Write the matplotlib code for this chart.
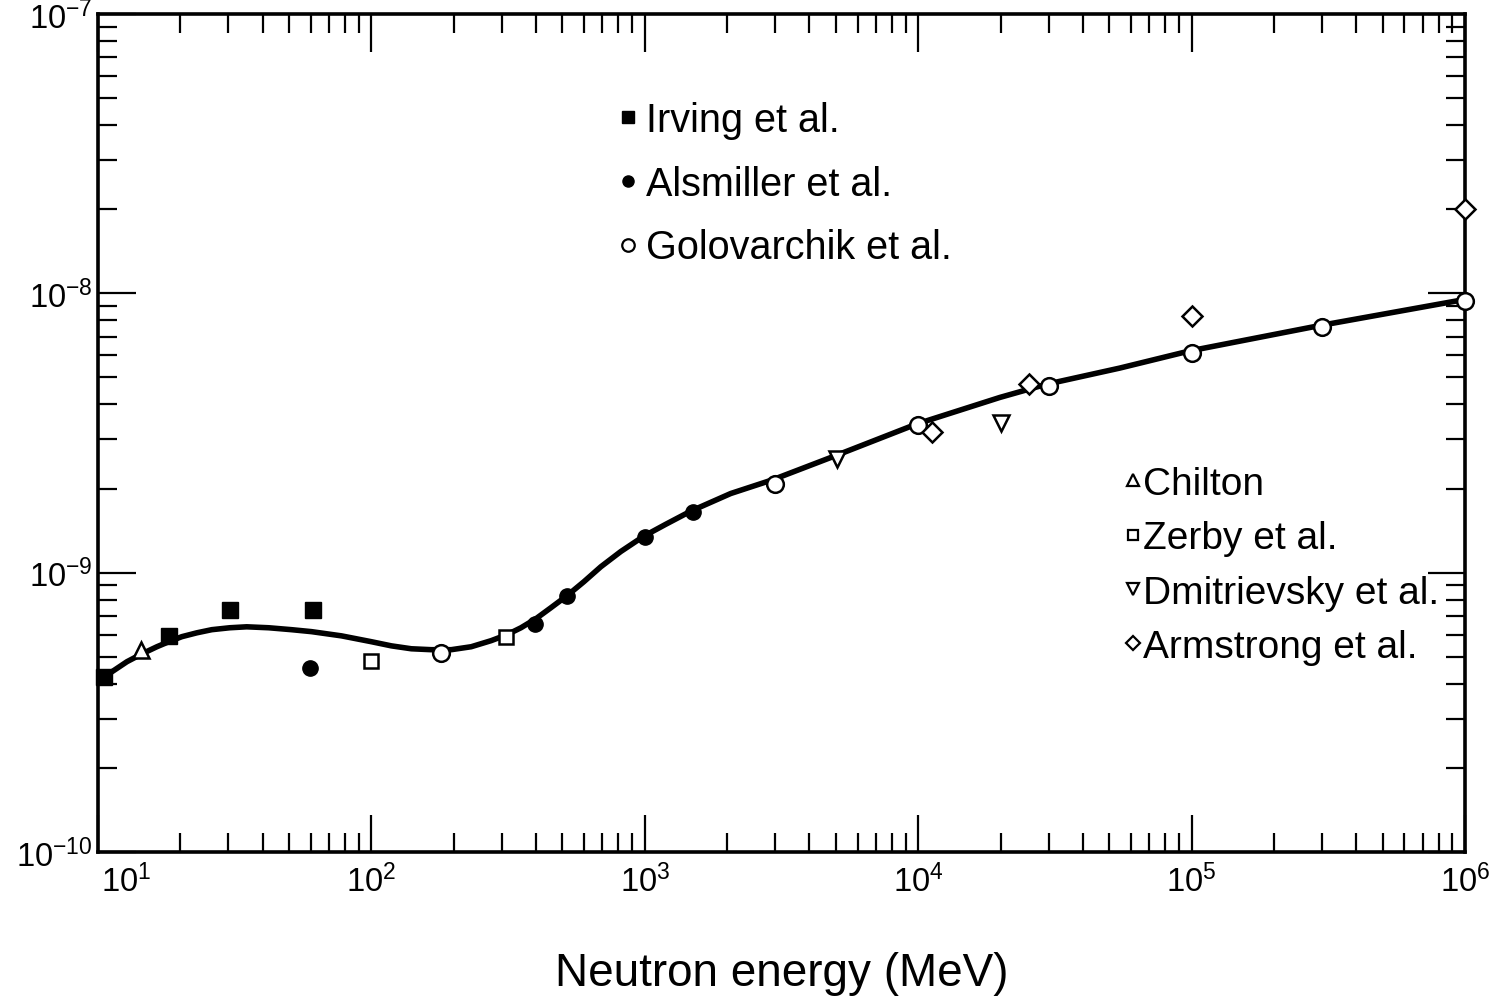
import matplotlib
matplotlib.use("Agg")
from matplotlib import pyplot as plt
from matplotlib.lines import Line2D
from matplotlib import transforms
import numpy as np

plt.rcParams['font.family'] = ['Liberation Sans', 'DejaVu Sans']
plt.rcParams['mathtext.fontset'] = 'custom'
plt.rcParams['mathtext.rm'] = 'Liberation Sans'
plt.rcParams['mathtext.it'] = 'Liberation Sans'
plt.rcParams['mathtext.bf'] = 'Liberation Sans:bold'

# fitted curve
curve_e = [10.0, 11.25, 12.76, 14.47, 16.42, 18.16, 20.26, 22.98, 26.07, 30.33,
           34.98, 42.09, 51.05, 60.39, 77.72, 100, 118.3, 140.0, 165.6, 195.9,
           231.7, 274.2, 313.5, 352.5, 399.6, 453.5, 519.3, 598.6, 690.6, 816.6,
           990.6, 1193, 1472, 2061, 2933, 5020, 9906, 1.99e4, 2.93e4, 5.46e4,
           9.84e4, 2.93e5, 1.0e6]
curve_v = [4.13e-10, 4.42e-10, 4.80e-10, 5.12e-10, 5.43e-10, 5.66e-10, 5.90e-10,
           6.09e-10, 6.25e-10, 6.35e-10, 6.40e-10, 6.35e-10, 6.25e-10, 6.15e-10,
           5.94e-10, 5.66e-10, 5.47e-10, 5.34e-10, 5.30e-10, 5.30e-10, 5.43e-10,
           5.71e-10, 6.00e-10, 6.35e-10, 6.84e-10, 7.49e-10, 8.27e-10, 9.28e-10,
           1.05e-9, 1.19e-9, 1.35e-9, 1.49e-9, 1.66e-9, 1.92e-9, 2.15e-9, 2.63e-9,
           3.41e-9, 4.24e-9, 4.72e-9, 5.40e-9, 6.22e-9, 7.66e-9, 9.51e-9]

# data sets
irving_e = [10.5, 18.2, 30.3, 61.4]
irving_v = [4.24e-10, 5.94e-10, 7.37e-10, 7.37e-10]

alsmiller_e = [59.4, 397, 519, 1000, 1500]
alsmiller_v = [4.57e-10, 6.56e-10, 8.27e-10, 1.34e-9, 1.65e-9]

golovarchik_e = [180, 3000, 1.0e4, 3.0e4, 1.0e5, 3.0e5, 1.0e6]
golovarchik_v = [5.17e-10, 2.07e-9, 3.38e-9, 4.64e-9, 6.1e-9, 7.59e-9, 9.35e-9]

chilton_e = [14.4]
chilton_v = [5.3e-10]

zerby_e = [100, 311]
zerby_v = [4.84e-10, 5.9e-10]

dmitrievsky_e = [5060, 2.01e4]
dmitrievsky_v = [2.55e-9, 3.43e-9]

armstrong_e = [1.12e4, 2.54e4, 1.0e5, 1.0e6]
armstrong_v = [3.19e-9, 4.72e-9, 8.3e-9, 2.0e-8]

xtick_vals = [1e1, 1e2, 1e3, 1e4, 1e5, 1e6]
xtick_labels = [r'$10^{1}$', r'$10^{2}$', r'$10^{3}$', r'$10^{4}$', r'$10^{5}$', r'$10^{6}$']
ytick_vals = [1e-10, 1e-9, 1e-8, 1e-7]
ytick_labels = [r'$10^{-10}$', r'$10^{-9}$', r'$10^{-8}$', r'$10^{-7}$']

fig = plt.figure(figsize=(14.9, 10.03), dpi=100)
ax = fig.add_axes([98 / 1490, 1 - 853 / 1003, (1465 - 98) / 1490, (853 - 15) / 1003])

ax.plot(curve_e, curve_v, color='black', lw=4.0, solid_capstyle='round',
        solid_joinstyle='round', zorder=2)

ms = 11
ax.plot(irving_e, irving_v, ls='none', marker='s', ms=ms, mfc='black', mec='black',
        zorder=3, clip_on=False)
ax.plot(alsmiller_e, alsmiller_v, ls='none', marker='o', ms=ms, mfc='black', mec='black',
        zorder=3)
ax.plot(golovarchik_e, golovarchik_v, ls='none', marker='o', ms=ms + 1, mfc='white',
        mec='black', mew=1.8, zorder=3, clip_on=False)
ax.plot(chilton_e, chilton_v, ls='none', marker='^', ms=ms, mfc='white', mec='black',
        mew=1.8, zorder=3)
ax.plot(zerby_e, zerby_v, ls='none', marker='s', ms=ms - 1, mfc='white', mec='black',
        mew=1.8, zorder=3)
ax.plot(dmitrievsky_e, dmitrievsky_v, ls='none', marker='v', ms=ms, mfc='white',
        mec='black', mew=1.8, zorder=3)
ax.plot(armstrong_e, armstrong_v, ls='none', marker='D', ms=ms - 1, mfc='white',
        mec='black', mew=1.8, zorder=3, clip_on=False)

ax.set_xscale('log')
ax.set_yscale('log')
ax.set_xlim(10, 1e6)
ax.set_ylim(1e-10, 1e-7)

for sp in ax.spines.values():
    sp.set_linewidth(2.6)

ax.tick_params(which='both', direction='in', top=True, right=True, colors='black')
ax.tick_params(which='major', length=27, width=1.6, pad=8)
ax.tick_params(which='minor', length=13.5, width=1.6)
ax.tick_params(axis='y', which='major', pad=4)

ax.set_xticks(xtick_vals)
ax.set_xticklabels(xtick_labels, fontsize=23.5)
ax.set_yticks(ytick_vals)
ax.set_yticklabels(ytick_labels, fontsize=23.5)

# first x label sits a little right of the corner
lab0 = ax.get_xticklabels()[0]
lab0.set_transform(lab0.get_transform() + transforms.ScaledTranslation(0.28, 0, fig.dpi_scale_trans))

ax.set_xlabel('Neutron energy (MeV)', fontsize=33)
ax.xaxis.set_label_coords(0.5, -0.118)

# legends
h1 = [Line2D([], [], ls='none', marker='s', ms=8, mfc='black', mec='black'),
      Line2D([], [], ls='none', marker='o', ms=8, mfc='black', mec='black'),
      Line2D([], [], ls='none', marker='o', ms=9, mfc='white', mec='black', mew=1.6)]
leg1 = ax.legend(h1, ['Irving et al.', 'Alsmiller et al.', 'Golovarchik et al.'],
                 loc='upper left', bbox_to_anchor=(618 / 1490, 1 - 102 / 1003),
                 bbox_transform=fig.transFigure, frameon=False, fontsize=28.5,
                 handlelength=0.5, handletextpad=0.2, labelspacing=0.65,
                 borderpad=0, borderaxespad=0)
ax.add_artist(leg1)

h2 = [Line2D([], [], ls='none', marker='^', ms=8, mfc='white', mec='black', mew=1.6),
      Line2D([], [], ls='none', marker='s', ms=7, mfc='white', mec='black', mew=1.6),
      Line2D([], [], ls='none', marker='v', ms=8, mfc='white', mec='black', mew=1.6),
      Line2D([], [], ls='none', marker='D', ms=7, mfc='white', mec='black', mew=1.6)]
ax.legend(h2, ['Chilton', 'Zerby et al.', 'Dmitrievsky et al.', 'Armstrong et al.'],
          loc='upper left', bbox_to_anchor=(1127 / 1490, 1 - 467 / 1003),
          bbox_transform=fig.transFigure, frameon=False, fontsize=28,
          handlelength=0.3, handletextpad=0.1, labelspacing=0.47,
          borderpad=0, borderaxespad=0)

fig.savefig('out.png', dpi=100)
